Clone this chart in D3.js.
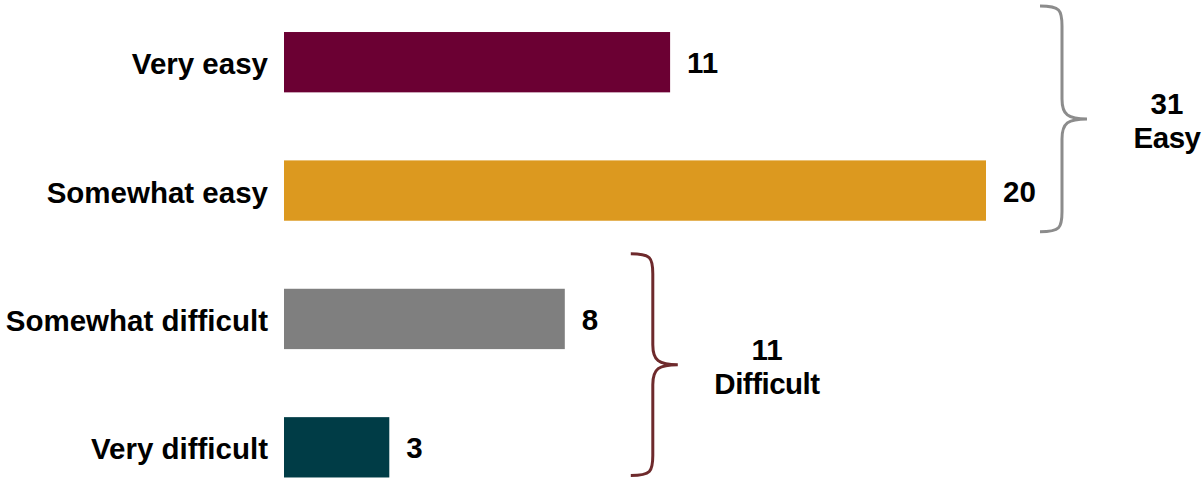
<!DOCTYPE html>
<html><head><meta charset="utf-8">
<script src="https://cdn.jsdelivr.net/npm/d3@7"></script>
<style>body{margin:0;background:#fff}svg{display:block}text{font-family:"Liberation Sans",Arial,sans-serif;font-weight:bold;fill:#000}</style>
</head><body><svg id="c" width="1202" height="481"></svg>
<script>
const categories = ["Very easy","Somewhat easy","Somewhat difficult","Very difficult"];
const values = [11,20,8,3];
const colors = ["#6b0033","#dc991f","#7f7f7f","#003c46"];
const groupNames = ["Easy","Difficult"];
const groupTotals = [31,11];
const groupMembers = [["Very easy","Somewhat easy"],["Somewhat difficult","Very difficult"]];
const groupColors = ["#8c8c8c","#6e2a2c"];

const svg = d3.select("#c");
const x = d3.scaleLinear().domain([0,20]).range([284,986]);
const y = d3.scaleBand().domain(categories).range([-2,511.5]).paddingInner(0.53).paddingOuter(0.265);
const fs = 29.5;

svg.selectAll("rect.bar").data(categories).join("rect").attr("class","bar")
  .attr("x",x(0)).attr("y",d=>y(d)).attr("height",y.bandwidth())
  .attr("width",(d,i)=>x(values[i])-x(0)).attr("fill",(d,i)=>colors[i]);

svg.selectAll("text.cat").data(categories).join("text").attr("class","cat")
  .attr("x",x(0)-16).attr("y",d=>y(d)+y.bandwidth()/2+12)
  .attr("text-anchor","end").attr("font-size",fs).text(d=>d);

svg.selectAll("text.val").data(categories).join("text").attr("class","val")
  .attr("x",(d,i)=>x(values[i])+17).attr("y",d=>y(d)+y.bandwidth()/2+11)
  .attr("font-size",fs).text((d,i)=>values[i]);

// brackets
const bspec = [
  {x0: x(20)+54, top: y(groupMembers[0][0])-26, bot: y(groupMembers[0][1])+y.bandwidth()+11},
  {x0: x(8)+66, top: y(groupMembers[1][0])-35, bot: y(groupMembers[1][1])+y.bandwidth()-2}
];
bspec.forEach((b,i)=>{
  const xv = b.x0+22, xt = b.x0+47, mid = (b.top+b.bot)/2, r = 20;
  const p = d3.path();
  p.moveTo(b.x0,b.top);
  p.bezierCurveTo(xv-2,b.top, xv,b.top+4, xv,b.top+r);
  p.lineTo(xv,mid-r);
  p.bezierCurveTo(xv,mid-4, xv+6,mid, xt,mid);
  p.moveTo(xt,mid);
  p.bezierCurveTo(xv+6,mid, xv,mid+4, xv,mid+r);
  p.lineTo(xv,b.bot-r);
  p.bezierCurveTo(xv,b.bot-4, xv-2,b.bot, b.x0,b.bot);
  svg.append("path").attr("d",p.toString()).attr("fill","none")
    .attr("stroke",groupColors[i]).attr("stroke-width",3);
  const cx = i===0 ? 1167 : 767;
  svg.append("text").attr("x",cx).attr("y",mid-5).attr("text-anchor","middle").attr("font-size",fs).text(groupTotals[i]);
  svg.append("text").attr("x",cx).attr("y",mid+29).attr("text-anchor","middle").attr("font-size",fs).attr("letter-spacing",-0.5).text(groupNames[i]);
});
</script></body></html>
